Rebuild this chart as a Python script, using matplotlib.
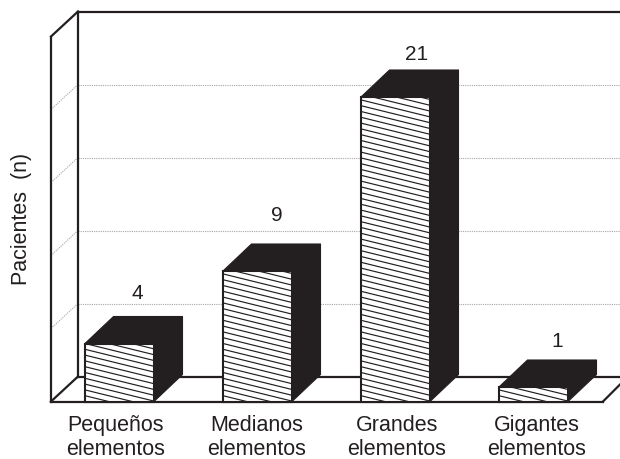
import matplotlib
matplotlib.use("Agg")
import matplotlib.pyplot as plt
from matplotlib.patches import Polygon, Rectangle

categories = ["Pequeños", "Medianos", "Grandes", "Gigantes"]
category_line2 = "elementos"
values = [4, 9, 21, 1]
grid_values = [5, 10, 15, 20]
y_max = 25
ylabel = "Pacientes  (n)"

INK = "#231f20"
W, H = 620, 460
plt.rcParams["font.family"] = ["Liberation Sans", "DejaVu Sans"]
fig = plt.figure(figsize=(W / 100, H / 100), dpi=100)
ax = fig.add_axes([0, 0, 1, 1])

# scales: one category = 138 px, one patient = 14.5 px
PX = 138.0
PY = 14.5
x0_px, y0_px = 119.5, 402.5
ax.set_xlim(-x0_px / PX, (W - x0_px) / PX)
ax.set_ylim(-(H - y0_px) / PY, y0_px / PY)
ax.axis("off")

def X(px):
    return (px - x0_px) / PX

def Y(px):
    return (y0_px - px) / PY

bw = 69 / PX
wall_dx, wall_dy = 27 / PX, 25 / PY
bar_dx, bar_dy = 28.5 / PX, 27 / PY
wall_k = 73 / 72.5  # wall ticks are spaced slightly wider than bars
left = X(51)
right_front = X(603)
right_edge = ax.get_xlim()[1]
lw = 1.6

def line(xs, ys, **kw):
    kw.setdefault("color", INK)
    kw.setdefault("lw", lw)
    kw.setdefault("solid_capstyle", "projecting")
    ax.plot(xs, ys, **kw)

# gridlines on back wall and side wall
dot = dict(color="#a6a6a6", lw=0.8, ls=(0, (1, 1)))
for g in grid_values:
    ax.plot([left + wall_dx, right_edge], [g * wall_k + wall_dy] * 2, **dot)
    ax.plot([left, left + wall_dx], [g * wall_k, g * wall_k + wall_dy], **dot)

# frame
top_y = y_max * wall_k
line([left, left], [0, top_y])
line([left, left + wall_dx], [top_y, top_y + wall_dy])
line([left + wall_dx, left + wall_dx], [wall_dy, top_y + wall_dy])
line([left + wall_dx, right_edge], [top_y + wall_dy] * 2)
line([left + wall_dx, right_edge], [wall_dy, wall_dy])
line([left, left + wall_dx], [0, wall_dy])
line([left, right_front], [0, 0])
line([right_front, right_front + 17 / PX], [0, 17 / PY])

# bars
label_y_px = [294, 216, 55, 342]
for i, v in enumerate(values):
    xl, xr = i - bw / 2, i + bw / 2
    ax.add_patch(Polygon([(xl, v), (xl + bar_dx, v + bar_dy), (xr + bar_dx, v + bar_dy), (xr, v)],
                         fc=INK, ec=INK, lw=0.8, zorder=3))
    ax.add_patch(Polygon([(xr, 0), (xr + bar_dx, bar_dy), (xr + bar_dx, v + bar_dy), (xr, v)],
                         fc=INK, ec=INK, lw=0.8, zorder=3))
    face = Rectangle((xl, 0), bw, v, fc="white", ec="none", zorder=4)
    ax.add_patch(face)
    # shallow diagonal hatch, clipped to the bar face
    step = 5.8 / PY
    drop = 17 / PY
    k = 0.0
    while k < v + drop:
        ln, = ax.plot([xl, xr], [k, k - drop], color=INK, lw=0.85, zorder=4.5)
        ln.set_clip_path(face)
        k += step
    ax.add_patch(Rectangle((xl, 0), bw, v, fc="none", ec=INK, lw=1.5, zorder=5))
    ax.text(i * 140 / PX + X(137), Y(label_y_px[i]), str(v), ha="center", va="center",
            fontsize=15, color=INK)
    cx = X([115.5, 257, 397, 537][i])
    ax.text(cx, Y(431), categories[i], ha="center", va="baseline", fontsize=15.5, color=INK)
    ax.text(cx, Y(455), category_line2, ha="center", va="baseline", fontsize=15.5, color=INK)

ax.text(X(21.5), Y(219), ylabel, rotation=90, ha="center", va="center", fontsize=15.5, color=INK)
fig.savefig("out.png", dpi=100)
